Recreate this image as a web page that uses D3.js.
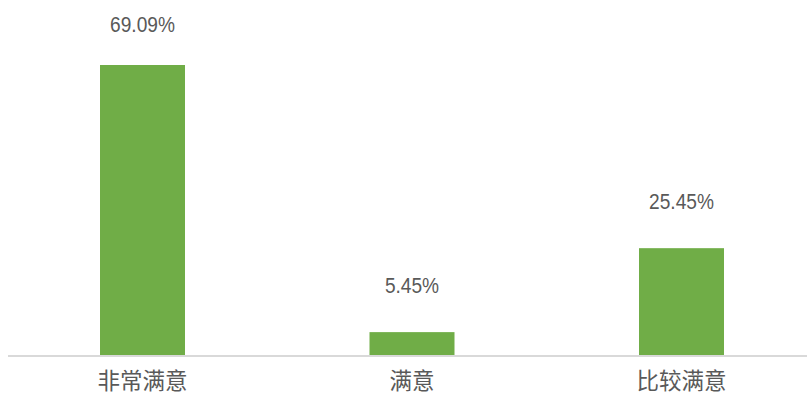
<!DOCTYPE html>
<html><head><meta charset="utf-8">
<script src="https://cdn.jsdelivr.net/npm/d3@7"></script>
<style>html,body{margin:0;padding:0;background:#fff;}</style>
</head><body>
<svg id="c" width="807" height="394"></svg>
<script>
const categories = ["非常满意", "满意", "比较满意"];
const values = [69.09, 5.45, 25.45];
const valueLabels = ["69.09%", "5.45%", "25.45%"];

const svg = d3.select("#c");
const baseY = 355, left = 8, right = 807;
const x = d3.scaleBand().domain(categories).range([7.75, 816.25]).paddingInner(0.6846).paddingOuter(0.3423);
const y = d3.scaleLinear().domain([0, 69.09]).range([baseY, 65]);

svg.selectAll("rect.bar").data(values).enter().append("rect")
  .attr("class","bar")
  .attr("x",(d,i)=>x(categories[i]))
  .attr("width",x.bandwidth())
  .attr("y",d=>y(d))
  .attr("height",d=>baseY-y(d))
  .attr("fill","#70ad47");

const axis = d3.axisBottom(x).tickSize(0).tickPadding(0);
const g = svg.append("g").attr("transform",`translate(0,${baseY})`).call(axis);
g.select(".domain").attr("stroke","#d9d9d9").attr("stroke-width",2).attr("d",`M${left},1H${right}`);
g.selectAll("text").attr("dy",null).attr("y",34)
  .attr("font-family","'Noto Sans CJK SC', sans-serif").attr("font-size",22.5).attr("fill","#595959");

svg.selectAll("text.val").data(values).enter().append("text")
  .attr("class","val")
  .attr("transform",(d,i)=>`translate(${x(categories[i])+x.bandwidth()/2},${Math.max(y(d)-39,32)}) scale(0.87,1)`)
  .attr("text-anchor","middle")
  .attr("font-family","'Liberation Sans', Arial, sans-serif")
  .attr("font-size",22)
  .attr("fill","#595959")
  .text((d,i)=>valueLabels[i]);
</script>
</body></html>
